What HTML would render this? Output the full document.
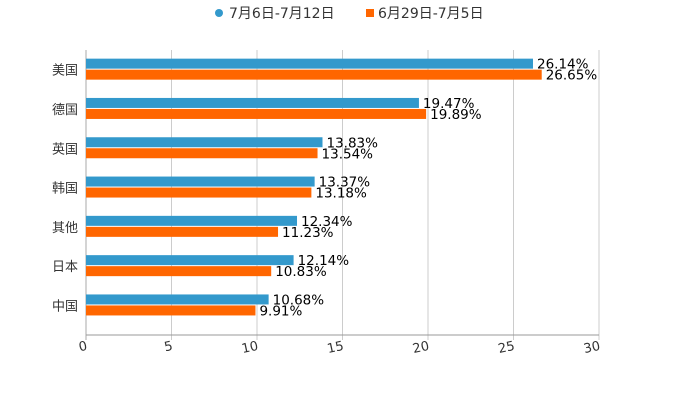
<!DOCTYPE html>
<html><head><meta charset="utf-8"><style>
body{margin:0;background:#fff}
svg{font-family:"DejaVu Sans","Noto Sans CJK SC",sans-serif}
</style></head><body>
<svg id="c" width="700" height="400">
<g>
<circle cx="219" cy="13" r="4" fill="#3399cc"/>
<text x="229" y="18" font-size="14" fill="#333">7月6日-7月12日</text>
<rect x="366" y="9" width="8" height="8" fill="#ff6600"/>
<text x="378" y="18" font-size="14" fill="#333">6月29日-7月5日</text>
</g>
</svg>
<script>
const categories=["美国","德国","英国","韩国","其他","日本","中国"];
const seriesA=[26.14,19.47,13.83,13.37,12.34,12.14,10.68];
const seriesB=[26.65,19.89,13.54,13.18,11.23,10.83,9.91];
const ticks=[0,5,10,15,20,25,30];
const svg=document.getElementById('c');const NS="http://www.w3.org/2000/svg";
const x0=86,x1=599,plotTop=50,band=39.3;
const xs=v=>x0+(v/30)*(x1-x0);
function mk(t,a,p){const e=document.createElementNS(NS,t);for(const k in a)e.setAttribute(k,a[k]);(p||svg).appendChild(e);return e;}
ticks.forEach(t=>{
 const g=mk('line',{x1:xs(t),x2:xs(t),y1:plotTop,y2:340,stroke:t===0?'#aaa':'#ccc','stroke-width':1});
 
 
 const tx=mk('text',{x:xs(t)+1,y:350,'font-size':13,fill:'#333','text-anchor':'end',transform:`rotate(-12 ${xs(t)} 346)`});
 tx.textContent=t;
 
 
});
const ax=mk('line',{x1:x0,x2:x1,y1:335,y2:335,stroke:'#999'});


categories.forEach((c,i)=>{
 const cy=plotTop+band*(i+0.5);
 const l=mk('text',{x:78,y:cy+5,'font-size':13,fill:'#333','text-anchor':'end'});l.textContent=c;
 
 
 [[seriesA,'#3399cc',cy-11],[seriesB,'#ff6600',cy]].forEach(([s,col,y],k)=>{
  const r=mk('rect',{x:x0,y:y,width:xs(s[i])-x0,height:10,fill:col});
  
  
  const t=mk('text',{x:xs(s[i])+4,y:y+10,'font-size':13.5,fill:'#000'});t.textContent=s[i].toFixed(2)+'%';
  
  
 });
});
</script>
</body></html>
